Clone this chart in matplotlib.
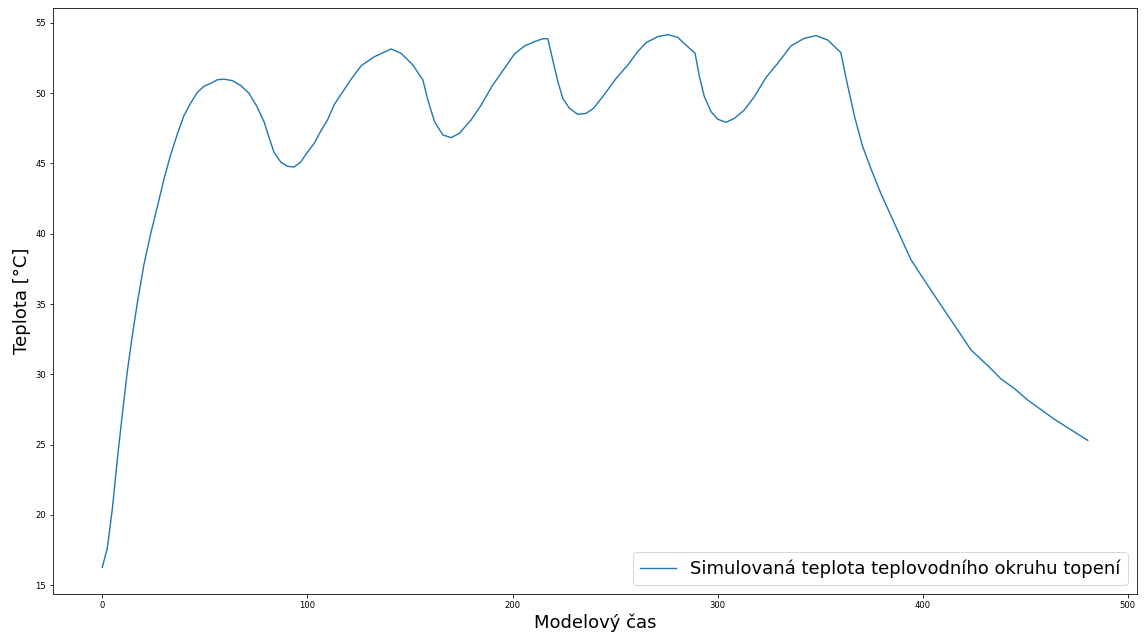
import matplotlib
matplotlib.use("Agg")
import matplotlib.pyplot as plt

# Model time and simulated temperature
model_time = [0, 2.4, 4.9, 7.3, 9.8, 12.2, 14.6, 17.1, 20.3, 23.6, 26.8, 30.1, 33.3, 36.6,
              39.8, 43.1, 46.3, 49.6, 52.8, 56.1, 59.3, 63.4, 67.5, 71.5, 75.6, 78.9, 81.3,
              83.7, 87.0, 90.2, 93.5, 96.7, 100, 103.4, 106.5, 109.8, 113.1, 116.3, 121.1,
              126.2, 132.7, 140.8, 145.7, 151.4, 156.3, 158.7, 162.0, 166.0, 170.1, 174.1,
              179.8, 184.7, 190.4, 196.1, 200.9, 205.8, 210.7, 214.8, 217.2, 219.6, 222.1,
              224.5, 227.7, 231.8, 235.9, 239.5, 244.0, 250.5, 256.2, 261.0, 265.1, 270.8,
              275.7, 280.5, 285.4, 289.0, 291.1, 293.5, 296.8, 300.0, 304.1, 308.2, 313.0,
              317.9, 323.6, 329.3, 335.8, 342.3, 348.0, 353.6, 360.0, 363.3, 366.8, 370.7,
              374.8, 379.6, 386.1, 394.2, 399.1, 407.2, 415.4, 423.5, 431.6, 438.1, 444.6,
              451.1, 464.1, 480.4]
temperature = [16.26, 17.6, 20.4, 23.9, 27.2, 30.2, 32.7, 35.1, 37.8, 40.0, 41.9, 43.9, 45.6,
               47.1, 48.4, 49.3, 50.05, 50.5, 50.7, 50.96, 51.0, 50.9, 50.55, 50.0, 49.0, 47.95,
               46.86, 45.8, 45.1, 44.8, 44.75, 45.1, 45.8, 46.45, 47.3, 48.1, 49.2, 49.9, 50.95,
               51.96, 52.6, 53.15, 52.84, 52.01, 50.94, 49.52, 47.97, 47.03, 46.84, 47.15,
               48.10, 49.16, 50.59, 51.78, 52.79, 53.36, 53.67, 53.88, 53.88, 52.37, 50.82,
               49.64, 48.93, 48.50, 48.57, 48.93, 49.76, 51.06, 52.01, 52.96, 53.60, 54.03,
               54.17, 53.98, 53.31, 52.84, 51.18, 49.76, 48.69, 48.15, 47.93, 48.22, 48.81,
               49.76, 51.13, 52.13, 53.38, 53.91, 54.10, 53.79, 52.9, 50.6, 48.3, 46.2,
               44.6, 42.85, 40.76, 38.16, 37.06, 35.28, 33.5, 31.73, 30.63, 29.67, 28.99,
               28.17, 26.8, 25.3]

series_label = "Simulovaná teplota teplovodního okruhu topení"
x_label = "Modelový čas"
y_label = "Teplota [°C]"

DPI = 72
fig = plt.figure(figsize=(1146 / DPI, 637 / DPI), dpi=DPI)
ax = fig.add_axes([53 / 1146, 1 - 594 / 637, (1137 - 53) / 1146, (594 - 8) / 637])

ax.plot(model_time, temperature, color="#1f77b4", linewidth=1.4, label=series_label)
ax.set_xlabel(x_label, fontsize=18)
ax.set_ylabel(y_label, fontsize=18)
ax.tick_params(labelsize=8.5)
ax.legend(loc="lower right", fontsize=18)

fig.savefig("out.png", dpi=DPI)
